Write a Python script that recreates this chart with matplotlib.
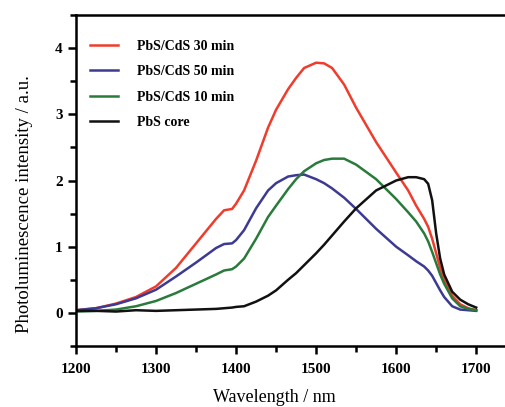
import matplotlib
matplotlib.use("Agg")
import matplotlib.pyplot as plt
from matplotlib.ticker import MultipleLocator

plt.rcParams['font.family'] = ['Liberation Serif', 'DejaVu Serif']
plt.rcParams['font.weight'] = 'bold'

# wavelength grid (nm) and intensities
wl = [1200, 1225, 1250, 1275, 1300, 1325, 1350, 1375, 1385, 1395, 1400, 1410, 1425,
      1440, 1450, 1465, 1475, 1485, 1500, 1510, 1520, 1535, 1550, 1575, 1600, 1615,
      1625, 1635, 1640, 1645, 1650, 1655, 1660, 1670, 1680, 1690, 1700]

pl_30 = [0.04, 0.07, 0.14, 0.24, 0.40, 0.68, 1.05, 1.42, 1.55, 1.57, 1.65, 1.85, 2.30,
         2.80, 3.07, 3.38, 3.55, 3.70, 3.78, 3.77, 3.70, 3.45, 3.10, 2.58, 2.12, 1.85,
         1.62, 1.42, 1.30, 1.12, 0.90, 0.68, 0.50, 0.26, 0.13, 0.07, 0.04]

pl_50 = [0.04, 0.07, 0.13, 0.22, 0.35, 0.55, 0.76, 0.98, 1.04, 1.05, 1.10, 1.25, 1.58,
         1.85, 1.96, 2.06, 2.08, 2.09, 2.02, 1.96, 1.88, 1.74, 1.57, 1.27, 1.00, 0.87,
         0.78, 0.70, 0.64, 0.56, 0.45, 0.34, 0.24, 0.10, 0.05, 0.04, 0.03]

pl_10 = [0.02, 0.03, 0.05, 0.10, 0.18, 0.30, 0.44, 0.58, 0.64, 0.66, 0.70, 0.82, 1.12,
         1.45, 1.62, 1.87, 2.02, 2.14, 2.26, 2.31, 2.33, 2.33, 2.24, 2.02, 1.72, 1.52,
         1.38, 1.20, 1.08, 0.92, 0.75, 0.58, 0.44, 0.22, 0.10, 0.06, 0.04]

pl_core = [0.03, 0.03, 0.02, 0.04, 0.03, 0.04, 0.05, 0.06, 0.07, 0.08, 0.09, 0.10, 0.17,
           0.26, 0.34, 0.50, 0.60, 0.72, 0.90, 1.03, 1.17, 1.38, 1.58, 1.85, 2.00, 2.05,
           2.05, 2.02, 1.95, 1.70, 1.20, 0.82, 0.58, 0.32, 0.20, 0.13, 0.08]

labels = ['PbS/CdS 30 min', 'PbS/CdS 50 min', 'PbS/CdS 10 min', 'PbS core']
colors = ['#f03c2c', '#3c3a92', '#2a7a3c', '#111111']

fig = plt.figure(figsize=(5.05, 4.07), dpi=100)
ax = fig.add_axes([0.1505, 0.15, 0.8495, 0.813])

for y, lab, c in zip([pl_30, pl_50, pl_10, pl_core], labels, colors):
    ax.plot(wl, y, color=c, lw=1.8, label=lab)

ax.set_xticks(range(1200, 1701, 100))
ax.set_xticks(range(1250, 1751, 100), minor=True)
ax.yaxis.set_major_locator(MultipleLocator(1))
ax.yaxis.set_minor_locator(MultipleLocator(0.5))
ax.set_xlim(1200, 1736)
ax.set_ylim(-0.5, 4.5)

for s in ['left', 'bottom', 'top']:
    ax.spines[s].set_linewidth(1.8)
ax.spines['right'].set_visible(False)
ax.tick_params(which='major', direction='out', length=6, width=1.8, labelsize=11)
ax.tick_params(which='minor', direction='out', length=4.5, width=1.8)
ax.tick_params(axis='x', pad=6)

ax.set_xlabel('Wavelength / nm', fontsize=13)
ax.set_ylabel('Photoluminescence intensity / a.u.', fontsize=13.5)
ax.xaxis.set_label_coords(0.462, -0.13)
ax.yaxis.set_label_coords(-0.1, 0.43)

ax.legend(loc='upper left', frameon=False, fontsize=10, handlelength=2.0,
          handletextpad=1.4, labelspacing=0.9, borderaxespad=0.6,
          bbox_to_anchor=(0.0, 0.968))

fig.savefig('out.png', dpi=100)
